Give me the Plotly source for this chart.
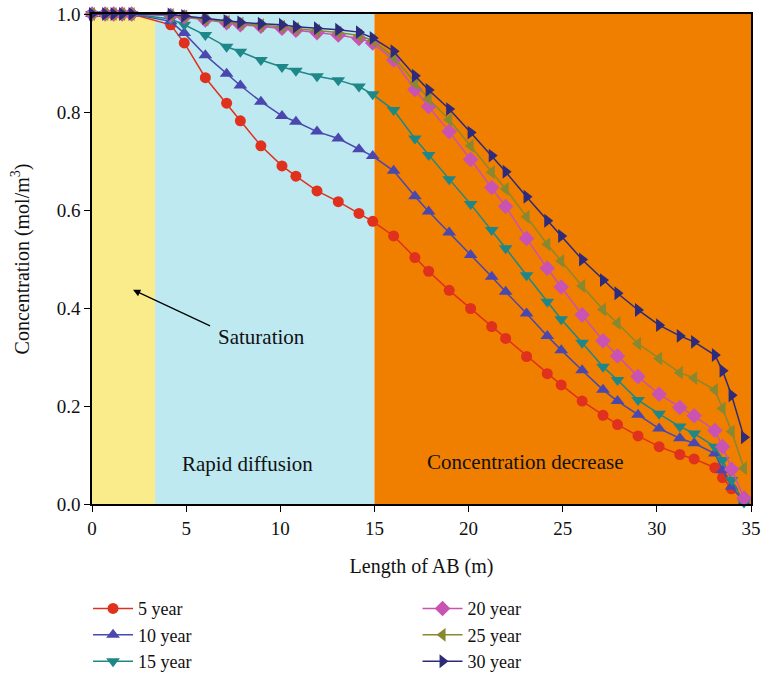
import plotly.graph_objects as go

# Distance along AB (m) of the sampled nodes
length_ab = [0, 0.7, 1.15, 1.6, 2.1, 4.18, 4.9, 6.02, 7.15, 7.88, 8.97, 10.09, 10.83,
             11.95, 13.08, 14.18, 14.91, 16.02, 17.15, 17.88, 18.97, 20.11, 21.23,
             21.97, 23.08, 24.18, 24.92, 26.03, 27.14, 27.91, 29.0, 30.12, 31.22,
             31.98, 33.08, 33.49, 33.97, 34.63]

# Concentration (mol/m^3) per exposure time
conc_5 = [1, 1, 1, 1, 1, 0.978, 0.941, 0.870, 0.818, 0.782, 0.731, 0.690, 0.669, 0.639,
          0.617, 0.593, 0.577, 0.547, 0.503, 0.475, 0.436, 0.399, 0.362, 0.338, 0.301,
          0.266, 0.243, 0.210, 0.181, 0.162, 0.139, 0.117, 0.101, 0.092, 0.074, 0.054,
          0.031, 0.010]
conc_10 = [1, 1, 1, 1, 1, 0.985, 0.961, 0.916, 0.878, 0.854, 0.821, 0.792, 0.780, 0.760,
           0.746, 0.724, 0.710, 0.680, 0.628, 0.597, 0.554, 0.508, 0.464, 0.433, 0.389,
           0.343, 0.314, 0.273, 0.233, 0.210, 0.182, 0.154, 0.134, 0.124, 0.103, 0.069,
           0.035, 0.004]
conc_15 = [1, 1, 1, 1, 1, 0.990, 0.978, 0.957, 0.933, 0.923, 0.906, 0.892, 0.884, 0.873,
           0.865, 0.852, 0.836, 0.804, 0.746, 0.712, 0.663, 0.612, 0.559, 0.522, 0.467,
           0.413, 0.377, 0.329, 0.280, 0.253, 0.212, 0.184, 0.158, 0.144, 0.117, 0.090,
           0.049, 0.003]
conc_20 = [1, 1, 1, 1, 1, 0.997, 0.994, 0.988, 0.982, 0.978, 0.975, 0.971, 0.967, 0.962,
           0.957, 0.950, 0.941, 0.906, 0.846, 0.811, 0.760, 0.703, 0.646, 0.607, 0.542,
           0.481, 0.443, 0.386, 0.333, 0.302, 0.260, 0.224, 0.197, 0.180, 0.150, 0.117,
           0.071, 0.012]
conc_25 = [1, 1, 1, 1, 1, 0.998, 0.995, 0.989, 0.984, 0.980, 0.977, 0.974, 0.970, 0.966,
           0.962, 0.956, 0.946, 0.912, 0.859, 0.827, 0.784, 0.731, 0.677, 0.643, 0.586,
           0.530, 0.496, 0.445, 0.397, 0.369, 0.327, 0.297, 0.268, 0.257, 0.233, 0.195,
           0.148, 0.073]
conc_30 = [1, 1, 1, 1, 1, 0.999, 0.996, 0.991, 0.986, 0.983, 0.980, 0.978, 0.974, 0.971,
           0.968, 0.963, 0.951, 0.924, 0.874, 0.845, 0.806, 0.758, 0.711, 0.678, 0.627,
           0.578, 0.547, 0.499, 0.457, 0.430, 0.396, 0.365, 0.343, 0.331, 0.304, 0.272,
           0.222, 0.136]

series_names = ["5 year", "10 year", "15 year", "20 year", "25 year", "30 year"]
series_values = [conc_5, conc_10, conc_15, conc_20, conc_25, conc_30]
series_colors = ["#E0301E", "#4A48AE", "#1E8888", "#C853B2", "#888830", "#2E2A7C"]
series_symbols = ["circle", "triangle-up", "triangle-down", "diamond", "triangle-left",
                  "triangle-right"]
series_sizes = [11, 12, 12, 12, 12, 12]
series_legend = ["legend", "legend", "legend", "legend2", "legend2", "legend2"]

# Zone boundaries along AB (m)
zone_edges = [0, 3.35, 15, 35]
zone_colors = ["#FAEC8A", "#BEE9F1", "#F07F00"]

FONT = "Liberation Serif"

fig = go.Figure()

for name, vals, col, sym, sz, lg in zip(series_names, series_values, series_colors,
                                        series_symbols, series_sizes, series_legend):
    fig.add_trace(go.Scatter(
        x=length_ab, y=vals, name=name, mode="lines+markers",
        line=dict(color=col, width=1.5),
        marker=dict(symbol=sym, size=sz, color=col),
        cliponaxis=False, legend=lg,
    ))

for x0, x1, c in zip(zone_edges[:-1], zone_edges[1:], zone_colors):
    fig.add_shape(type="rect", xref="x", yref="y", x0=x0, x1=x1, y0=0, y1=1,
                  fillcolor=c, line_width=0, layer="below")

ann_font = dict(family=FONT, size=21, color="#111111")
# arrow pointing into the saturated zone, label placed on its own
fig.add_annotation(x=2.18, y=0.437, ax=6.35, ay=0.362, axref="x", ayref="y",
                   xref="x", yref="y", text="", showarrow=True, arrowhead=2,
                   arrowsize=1.2, arrowwidth=1.2, arrowcolor="#000000")
fig.add_annotation(x=8.98, y=0.341, xref="x", yref="y", text="Saturation",
                   showarrow=False, font=ann_font)
fig.add_annotation(x=8.28, y=0.082, xref="x", yref="y", text="Rapid diffusion",
                   showarrow=False, font=ann_font)
fig.add_annotation(x=23.0, y=0.086, xref="x", yref="y", text="Concentration decrease",
                   showarrow=False, font=ann_font)

axis_common = dict(showgrid=False, zeroline=False, showline=True, linecolor="#000000",
                   linewidth=1.5, mirror=True, ticks="outside", ticklen=6,
                   tickcolor="#000000", tickwidth=1.2,
                   tickfont=dict(family=FONT, size=19, color="#111111"))

fig.update_xaxes(range=[0, 35], tickvals=[0, 5, 10, 15, 20, 25, 30, 35],
                 title=dict(text="Length of AB (m)", standoff=21,
                            font=dict(family=FONT, size=20, color="#111111")),
                 **axis_common)
fig.update_yaxes(range=[0, 1], tickvals=[0, 0.2, 0.4, 0.6, 0.8, 1.0], tickformat=".1f",
                 title=dict(text="Concentration (mol/m<sup>3</sup>)", standoff=22,
                            font=dict(family=FONT, size=20, color="#111111")),
                 **axis_common)

legend_common = dict(orientation="v", font=dict(family=FONT, size=18, color="#111111"),
                     bgcolor="rgba(0,0,0,0)", xanchor="left", yanchor="top",
                     tracegroupgap=0, itemwidth=40)

fig.update_layout(
    width=764, height=676,
    margin=dict(l=92, r=13, t=14, b=172, autoexpand=False),
    paper_bgcolor="#FFFFFF", plot_bgcolor="#FFFFFF",
    font=dict(family=FONT),
    legend=dict(x=-0.006, y=-0.176, **legend_common),
    legend2=dict(x=0.494, y=-0.176, **legend_common),
)

fig.write_html("out.html")
